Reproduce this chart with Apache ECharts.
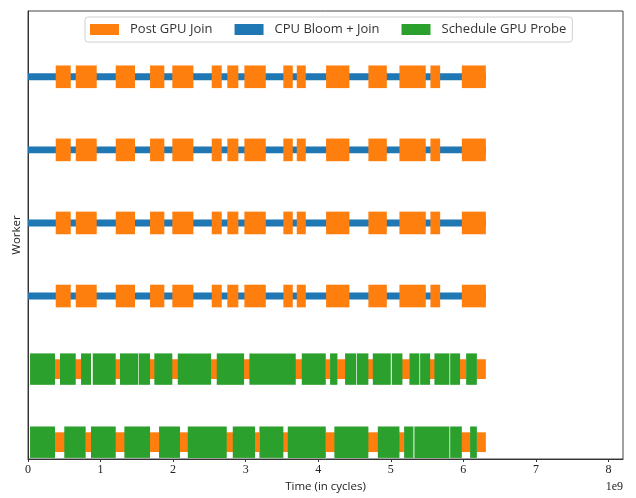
<!DOCTYPE html>
<html>
<head>
<meta charset="utf-8">
<script src="https://cdn.jsdelivr.net/npm/echarts@6/dist/echarts.min.js"></script>
<style>
  html, body { margin: 0; padding: 0; background: #fff; }
  #chart { width: 636px; height: 498px; }
</style>
</head>
<body>
<div id="chart"></div>
<script>
// times are in units of 1e9 cycles, rows counted from the bottom (0..5)
const cpuRows = [2, 3, 4, 5];
const gpuRows = [0, 1];

const cpuBloomJoin = [[0, 6.31]];
const postJoinCpu = [
  [0.382, 0.589], [0.658, 0.947], [1.209, 1.475], [1.682, 1.879], [1.989, 2.279],
  [2.532, 2.670], [2.747, 2.899], [2.982, 3.277], [3.519, 3.649], [3.704, 3.828],
  [4.108, 4.429], [4.691, 4.945], [5.119, 5.482], [5.546, 5.680], [5.979, 6.310]
];

const gpuProbeRow1 = [
  [0.028, 0.372], [0.441, 0.658], [0.731, 0.868], [0.892, 1.209], [1.268, 1.521],
  [1.530, 1.682], [1.741, 1.989], [2.064, 2.523], [2.601, 2.978], [3.051, 3.690],
  [3.773, 4.104], [4.163, 4.264], [4.370, 4.522], [4.531, 4.691], [4.752, 5.000],
  [5.014, 5.160], [5.256, 5.394], [5.404, 5.542], [5.601, 5.808], [5.818, 5.955],
  [6.038, 6.186]
];
const postJoinRow1 = [
  [0.36, 0.45], [0.65, 0.74], [1.20, 1.28], [1.67, 1.75], [1.98, 2.07],
  [2.51, 2.61], [2.97, 3.06], [3.68, 3.78], [4.10, 4.17], [4.26, 4.38],
  [4.68, 4.76], [5.15, 5.26], [5.54, 5.61], [5.95, 6.04], [6.18, 6.31]
];

const gpuProbeRow0 = [
  [0.028, 0.372], [0.500, 0.795], [0.868, 1.209], [1.328, 1.682], [1.806, 2.095],
  [2.202, 2.739], [2.822, 3.129], [3.189, 3.519], [3.580, 4.104], [4.222, 4.691],
  [4.821, 5.119], [5.183, 5.312], [5.325, 5.808], [5.818, 5.979], [6.093, 6.186]
];
const postJoinRow0 = [
  [0.36, 0.51], [0.79, 0.87], [1.20, 1.34], [1.67, 1.81], [2.09, 2.21],
  [2.73, 2.83], [3.12, 3.19], [3.51, 3.59], [4.10, 4.23], [4.68, 4.83],
  [5.11, 5.19], [5.97, 6.10], [6.18, 6.31]
];

const xTicks = [0, 1, 2, 3, 4, 5, 6, 7, 8];

// bar thickness in row units
const H_BLUE = 0.095, H_ORANGE = 0.31, H_GREEN = 0.43, H_ORANGE_GPU = 0.27;

function rows(list, row, h) {
  return list.map(d => [d[0], d[1], row, h]);
}

let blueData = [], orangeData = [], greenData = [];
cpuRows.forEach(r => {
  blueData = blueData.concat(rows(cpuBloomJoin, r, H_BLUE));
  orangeData = orangeData.concat(rows(postJoinCpu, r, H_ORANGE));
});
orangeData = orangeData.concat(rows(postJoinRow1, gpuRows[1], H_ORANGE_GPU), rows(postJoinRow0, gpuRows[0], H_ORANGE_GPU));
greenData = greenData.concat(rows(gpuProbeRow1, gpuRows[1], H_GREEN), rows(gpuProbeRow0, gpuRows[0], H_GREEN));

function renderBar(params, api) {
  const start = api.coord([api.value(0), api.value(2)]);
  const end = api.coord([api.value(1), api.value(2)]);
  const h = api.size([0, api.value(3)])[1];
  const shape = echarts.graphic.clipRectByRect({
    x: start[0], y: start[1] - h / 2, width: end[0] - start[0], height: h
  }, {
    x: params.coordSys.x, y: params.coordSys.y,
    width: params.coordSys.width, height: params.coordSys.height
  });
  return shape && { type: 'rect', shape: shape, style: api.style() };
}

function barSeries(name, color, data, z) {
  return {
    name: name,
    type: 'custom',
    renderItem: renderBar,
    itemStyle: { color: color },
    encode: { x: [0, 1], y: 2 },
    data: data,
    z: z,
    silent: true
  };
}

const myChart = echarts.init(document.getElementById('chart'), null, { renderer: 'canvas' });
myChart.setOption({
  animation: false,
  textStyle: { fontFamily: 'Open Sans' },
  grid: { left: 28, right: 13, top: 11, bottom: 37, show: true, borderColor: '#444', borderWidth: 1 },
  legend: {
    left: 85, top: 17,
    itemWidth: 29, itemHeight: 11, itemGap: 22,
    padding: [6, 6, 6, 5],
    borderColor: '#d0d0d0', borderWidth: 1, borderRadius: 3,
    backgroundColor: '#fff',
    icon: 'rect',
    textStyle: { fontFamily: 'Open Sans', fontSize: 13, color: '#333', padding: [0, 0, 0, 6] },
    data: ['Post GPU Join', 'CPU Bloom + Join', 'Schedule GPU Probe']
  },
  xAxis: {
    type: 'value', min: 0, max: 8.2, interval: 1,
    name: 'Time (in cycles)', nameLocation: 'middle', nameGap: 22,
    nameTextStyle: { fontFamily: 'Open Sans', fontSize: 11.5, color: '#222' },
    axisLine: { show: true, onZero: false, lineStyle: { color: '#333' } },
    axisTick: { show: true, length: 3, lineStyle: { color: '#333' },
      customValues: xTicks },
    axisLabel: { fontFamily: 'Liberation Serif', fontSize: 12, color: '#222', margin: 5,
      customValues: xTicks, formatter: v => String(v) },
    splitLine: { show: false }
  },
  yAxis: {
    type: 'value', min: -0.23, max: 5.9,
    name: 'Worker', nameLocation: 'middle', nameGap: 5, nameRotate: 90,
    nameTextStyle: { fontFamily: 'Open Sans', fontSize: 11.5, color: '#222' },
    axisLine: { show: true, lineStyle: { color: '#333' } },
    axisTick: { show: false }, axisLabel: { show: false }, splitLine: { show: false }
  },
  graphic: [{
    type: 'text', right: 13, top: 481,
    style: { text: '1e9', fontFamily: 'Liberation Serif', fontSize: 12, fill: '#222' }
  }],
  series: [
    barSeries('Post GPU Join', '#ff7f0e', orangeData, 3),
    barSeries('CPU Bloom + Join', '#1f77b4', blueData, 2),
    barSeries('Schedule GPU Probe', '#2ca02c', greenData, 4)
  ]
});
</script>
</body>
</html>
